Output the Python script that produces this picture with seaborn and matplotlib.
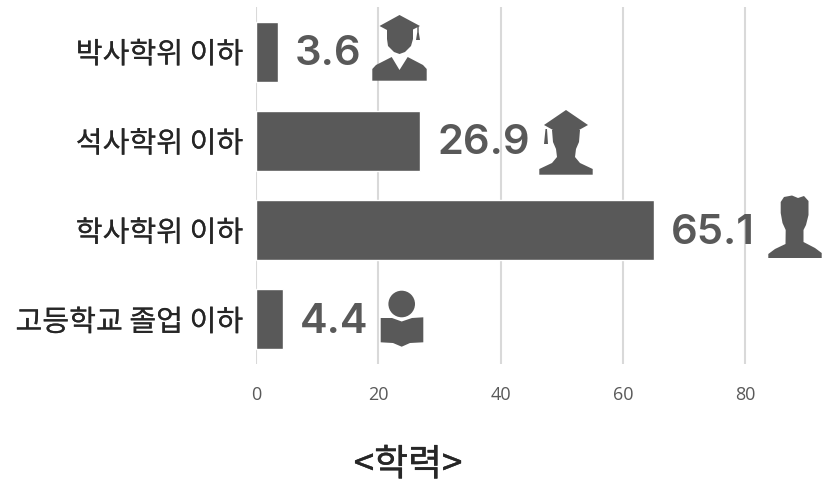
import matplotlib
matplotlib.use("Agg")
import matplotlib.pyplot as plt
import matplotlib.patheffects as pe
import seaborn as sns
import pandas as pd
from matplotlib.patches import Polygon, Circle
from matplotlib.transforms import Affine2D

# 학력 data
categories = ["박사학위 이하", "석사학위 이하", "학사학위 이하", "고등학교 졸업 이하"]
values = [3.6, 26.9, 65.1, 4.4]
value_labels = ["3.6", "26.9", "65.1", "4.4"]
ticks = [0, 20, 40, 60, 80]

sns.set_theme(style="white")
plt.rcParams['font.family'] = ['Noto Sans CJK KR', 'DejaVu Sans']

GREY = "#595959"
W, H = 825, 485

fig = plt.figure(figsize=(W / 100, H / 100), dpi=100)
ax = fig.add_axes([256 / W, 1 - 365 / H, (W - 256) / W, 357 / H])

df = pd.DataFrame({"edu": categories, "val": values})
sns.barplot(data=df, x="val", y="edu", orient="h", color=GREY, saturation=1, width=0.67, ax=ax, zorder=3)

ax.set_xlim(0, (W - 256) / 6.115)
ax.set_ylim(3.5, -0.5)
ax.set_xlabel("")
ax.set_ylabel("")
ax.set_xticks(ticks)
ax.grid(axis="x", color="#d9d9d9", lw=1.5, zorder=0)
ax.set_axisbelow(True)
sns.despine(ax=ax, left=True, bottom=True, top=True, right=True)
ax.tick_params(axis="x", length=0, pad=15, labelsize=13, labelcolor=GREY)
ax.tick_params(axis="y", length=0, pad=9, labelsize=21, labelcolor="#262626")
for t in ax.get_xticklabels():
    t.set_family(["Open Sans", "DejaVu Sans"])
for t in ax.get_yticklabels():
    t.set_path_effects([pe.withStroke(linewidth=0.12, foreground="#262626")])

for i, (v, lab) in enumerate(zip(values, value_labels)):
    ax.annotate(lab, (v, i), xytext=(12.2, -1), textcoords="offset points", va="center", ha="left",
                fontsize=30, fontweight=600, color=GREY, family=["Inter", "DejaVu Sans"], zorder=5)

fig.text(408 / W, 1 - 466 / H, "<학력>", ha="center", va="center", fontsize=26.5, color="#262626",
         path_effects=[pe.withStroke(linewidth=0.3, foreground="#262626")])

# icons, traced in reference pixels (y goes down)
px = Affine2D().scale(1, -1).translate(0, H)


def shape(pts, color=GREY):
    fig.add_artist(Polygon(pts, closed=True, fc=color, ec="none", transform=px, zorder=6))


# doctor
shape([(399.5, 16), (379.5, 27), (387, 31), (412, 31), (420, 27)])
shape([(417.3, 27), (418.7, 27), (418.7, 33), (420, 41), (416, 41), (417.3, 33)])
shape([(387, 30), (413, 30), (413, 40), (411, 47), (405, 53), (399.5, 55), (394, 53), (388, 47), (387, 40)])
shape([(372.3, 81.7), (372.3, 70), (376, 66), (391.7, 58), (399.5, 71), (407.7, 58), (423, 66), (426.7, 70), (426.7, 81.7)])

# master
shape([(566, 111), (544, 126), (553, 131), (566, 140), (579, 131), (588, 126)])
shape([(545.5, 130), (547, 130), (548, 145), (544, 145)])
shape([(552, 131), (580, 131), (579, 143), (576, 150), (575, 158), (580, 164), (592.7, 170), (592.7, 175.7),
       (539.3, 175.7), (539.3, 170), (552, 164), (557, 158), (556, 150), (553, 143)])

# bachelor
shape([(784, 198), (792, 196.5), (798, 199), (804, 197), (808.5, 202), (808.5, 216), (806, 226), (803.5, 231), (803.5, 243),
       (815, 249), (821.7, 254), (821.7, 259), (768.3, 259), (768.3, 255), (775, 250), (785.5, 245), (785.7, 231),
       (782.5, 224), (780.7, 214), (780.7, 203)])

# high school
fig.add_artist(Circle((401.7, 305), 13.3, fc=GREY, ec="none", transform=px, zorder=6))
shape([(380.7, 319), (392, 319), (401.7, 322.5), (412, 319), (423.3, 318.3), (423.3, 343.3), (410, 344),
       (401.7, 347.7), (393, 344), (380.7, 343.3)])

fig.savefig("out.png", dpi=100)
